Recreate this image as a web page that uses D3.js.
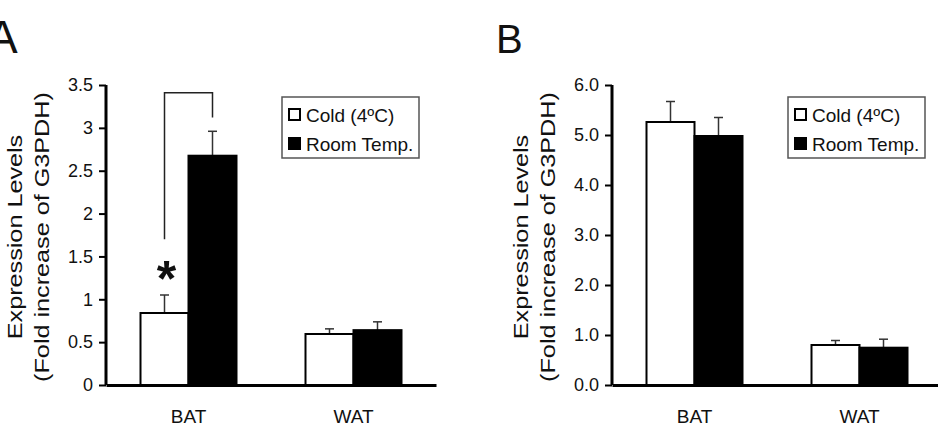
<!DOCTYPE html>
<html>
<head>
<meta charset="utf-8">
<script src="https://cdn.jsdelivr.net/npm/d3@7"></script>
<style>
  body { margin: 0; background: #fff; }
  text { font-family: "Liberation Sans", Arial, sans-serif; fill: #111; }
</style>
</head>
<body>
<div id="chart"></div>
<script>
var canvasWidth = 938;
var canvasHeight = 439;

/*Data*/
var categories = ["BAT", "WAT"];
var seriesNames = ["Cold (4ºC)", "Room Temp."];

var aCold = [0.84, 0.595];
var aColdErr = [0.21, 0.06];
var aRoom = [2.675, 0.64];
var aRoomErr = [0.285, 0.097];
var aTicks = [0, 0.5, 1, 1.5, 2, 2.5, 3, 3.5];

var bCold = [5.26, 0.80];
var bColdErr = [0.41, 0.09];
var bRoom = [4.98, 0.746];
var bRoomErr = [0.37, 0.17];
var bTicks = [0, 1, 2, 3, 4, 5, 6];

/*significance bracket on BAT in panel A (value units)*/
var aBracket = {left: 1.7, top: 3.41, right: 3.12, star: 1.32};

var svg = d3.select("#chart").append("svg")
    .attr("width", canvasWidth)
    .attr("height", canvasHeight);

var plotTop = 85;
var plotBottom = 385;
var plotWidth = 330;

function drawPanel(opts) {
    var g = svg.append("g")
        .attr("transform", "translate(" + opts.x + ",0)");

    var yScale = d3.scaleLinear().domain([0, opts.max]).range([plotBottom, plotTop]);
    var x0 = d3.scaleBand().domain(categories).range([0, plotWidth]);
    var x1 = d3.scaleBand().domain(seriesNames).range([-48, 48]);

    /*panel letter*/
    svg.append("text")
        .attr("x", opts.letterX)
        .attr("y", 53)
        .attr("font-size", opts.letterSize)
        .text(opts.letter);

    /*y label, two lines*/
    var yl = g.append("text")
        .attr("transform", "translate(-84.5," + 237 + ") rotate(-90) scale(1.2,1)")
        .attr("text-anchor", "middle")
        .attr("font-size", 21);
    yl.append("tspan").attr("x", 0).attr("y", 0).text("Expression Levels");
    yl.append("tspan").attr("x", 0).attr("y", 27.6).text("(Fold increase of G3PDH)");

    var rows = categories.map(function (c, i) {
        return {cat: c, vals: [
            {s: seriesNames[0], v: opts.cold[i], e: opts.coldErr[i]},
            {s: seriesNames[1], v: opts.room[i], e: opts.roomErr[i]}
        ]};
    });

    var groups = g.selectAll(".grp")
        .data(rows)
        .join("g")
        .attr("class", "grp")
        .attr("transform", function (d) { return "translate(" + (x0(d.cat) + x0.bandwidth() / 2) + ",0)"; });

    /*error bars (upper only)*/
    groups.selectAll(".err")
        .data(function (d) { return d.vals; })
        .join("g")
        .attr("class", "err")
        .each(function (d) {
            var cx = x1(d.s) + x1.bandwidth() / 2;
            var e = d3.select(this);
            e.append("line")
                .attr("x1", cx).attr("x2", cx)
                .attr("y1", yScale(d.v)).attr("y2", yScale(d.v + d.e))
                .attr("stroke", "#333").attr("stroke-width", 1.5);
            e.append("line")
                .attr("x1", cx - 4.5).attr("x2", cx + 4.5)
                .attr("y1", yScale(d.v + d.e)).attr("y2", yScale(d.v + d.e))
                .attr("stroke", "#333").attr("stroke-width", 1.5);
        });

    groups.selectAll("rect")
        .data(function (d) { return d.vals; })
        .join("rect")
        .attr("x", function (d) { return x1(d.s); })
        .attr("width", x1.bandwidth())
        .attr("y", function (d) { return yScale(d.v); })
        .attr("height", function (d) { return plotBottom - yScale(d.v); })
        .attr("fill", function (d, i) { return i === 0 ? "#fff" : "#000"; })
        .attr("stroke", "#000")
        .attr("stroke-width", 2);

    /*Y-axis*/
    g.append("g")
        .call(d3.axisLeft(yScale).tickValues(opts.ticks).tickFormat(opts.fmt)
            .tickSize(7).tickPadding(6).tickSizeOuter(0))
        .call(function (a) {
            a.select(".domain").attr("stroke-width", 3).attr("d", "M0," + plotTop + "V" + plotBottom);
            a.selectAll(".tick line").attr("stroke-width", 2);
            a.selectAll("text").attr("font-size", 18).attr("font-family", "Liberation Sans, Arial, sans-serif").attr("fill", "#111");
        });

    /*X-axis*/
    g.append("g")
        .attr("transform", "translate(0," + plotBottom + ")")
        .call(d3.axisBottom(x0).tickSize(0).tickPadding(25).tickSizeOuter(0))
        .call(function (a) {
            a.select(".domain").attr("stroke-width", 3);
            a.selectAll("text").attr("font-size", 19).attr("font-family", "Liberation Sans, Arial, sans-serif").attr("fill", "#111");
        });

    /*legend*/
    var lg = g.append("g").attr("transform", "translate(176,97)");
    lg.append("rect")
        .attr("width", 137).attr("height", 61)
        .attr("fill", "#fff").attr("stroke", "#555").attr("stroke-width", 1.5);
    seriesNames.forEach(function (s, i) {
        lg.append("rect")
            .attr("x", 7).attr("y", 12 + i * 29)
            .attr("width", 11).attr("height", 11)
            .attr("fill", i === 0 ? "#fff" : "#000")
            .attr("stroke", "#000").attr("stroke-width", 2);
        lg.append("text")
            .attr("x", 24).attr("y", 25 + i * 29)
            .attr("font-size", 19)
            .text(s);
    });

    return {g: g, y: yScale, x0: x0, x1: x1};
}

var pA = drawPanel({x: 106, max: 3.5, ticks: aTicks, fmt: d3.format(""), letter: "A", letterX: -13, letterSize: 46,
    cold: aCold, coldErr: aColdErr, room: aRoom, roomErr: aRoomErr});
var pB = drawPanel({x: 612, max: 6, ticks: bTicks, fmt: d3.format(".1f"), letter: "B", letterX: 496, letterSize: 40,
    cold: bCold, coldErr: bColdErr, room: bRoom, roomErr: bRoomErr});

/*bracket and star, panel A BAT*/
var bc = pA.x0("BAT") + pA.x0.bandwidth() / 2;
var lx = bc + pA.x1(seriesNames[0]) + pA.x1.bandwidth() / 2;
var rx = bc + pA.x1(seriesNames[1]) + pA.x1.bandwidth() / 2;
pA.g.append("path")
    .attr("d", d3.line()([[lx, pA.y(aBracket.left)], [lx, pA.y(aBracket.top)], [rx, pA.y(aBracket.top)], [rx, pA.y(aBracket.right)]]))
    .attr("fill", "none").attr("stroke", "#222").attr("stroke-width", 1.5);
pA.g.append("text")
    .attr("x", lx + 2)
    .attr("y", pA.y(aBracket.star) + 24)
    .attr("text-anchor", "middle")
    .attr("font-size", 50)
    .attr("font-weight", "bold")
    .text("*");
</script>
</body>
</html>
